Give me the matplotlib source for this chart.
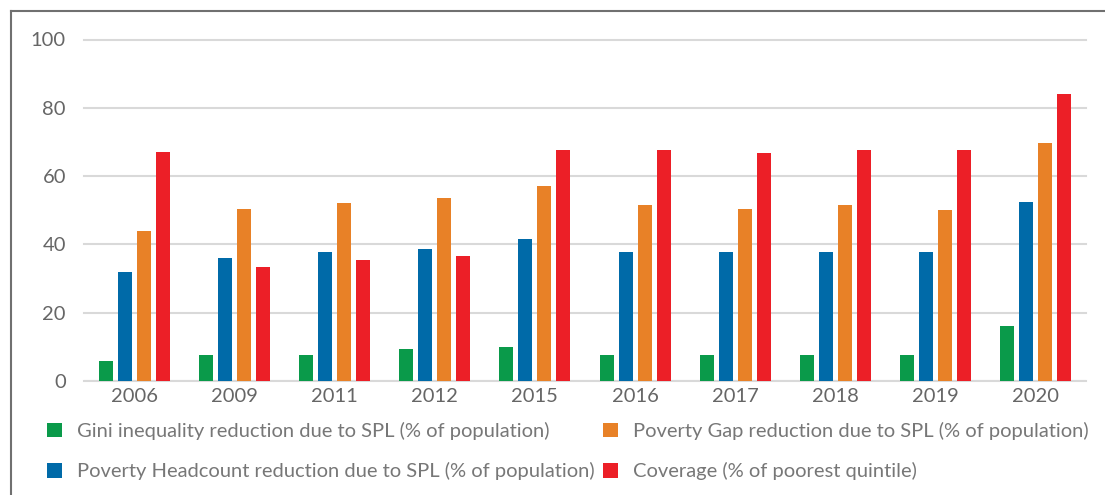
import matplotlib
matplotlib.use("Agg")
import matplotlib.pyplot as plt
import numpy as np

years = ["2006", "2009", "2011", "2012", "2015", "2016", "2017", "2018", "2019", "2020"]
gini = [5.9, 7.6, 7.6, 9.4, 10.0, 7.6, 7.6, 7.6, 7.6, 16.1]
headcount = [31.9, 36.0, 37.8, 38.6, 41.6, 37.8, 37.8, 37.8, 37.8, 52.4]
gap = [43.9, 50.3, 52.1, 53.6, 57.1, 51.5, 50.3, 51.5, 50.0, 69.7]
coverage = [67.0, 33.4, 35.4, 36.6, 67.6, 67.6, 66.7, 67.6, 67.6, 84.0]

series = [
    ("Gini inequality reduction due to SPL (% of population)", gini, "#0a9a4a"),
    ("Poverty Headcount reduction due to SPL (% of population)", headcount, "#006aa8"),
    ("Poverty Gap reduction due to SPL (% of population)", gap, "#e88127"),
    ("Coverage (% of poorest quintile)", coverage, "#ec1f27"),
]
yticks = [0, 20, 40, 60, 80, 100]

plt.rcParams['font.family'] = ['Lato', 'DejaVu Sans']

W, H = 1105, 495
fig = plt.figure(figsize=(W / 100, H / 100), dpi=100)
ax = fig.add_axes([84 / W, (H - 381) / H, (1086 - 84) / W, (381 - 39.5) / H])

x = np.arange(len(years))
width = 0.14
pitch = 0.19
offsets = (np.arange(4) - 1.5) * pitch
handles = []
for (label, vals, color), off in zip(series, offsets):
    b = ax.bar(x + off, vals, width=width, color=color, label=label, zorder=3)
    handles.append(b)

FS = 14.5
ax.set_xlim(-0.5, len(years) - 0.5)
ax.set_ylim(0, 100)
ax.set_yticks(yticks)
ax.set_xticks(x)
ax.set_xticklabels(years)
ax.grid(axis='y', color='#d9d9d9', linewidth=1.5, zorder=0)
for s in ax.spines.values():
    s.set_visible(False)
ax.axhline(0, color='#d9d9d9', linewidth=1.5, zorder=2)
ax.tick_params(axis='both', length=0, labelsize=FS, labelcolor='#666666')
ax.tick_params(axis='y', pad=13)
ax.tick_params(axis='x', pad=5)
for gl in ax.get_ygridlines():
    gl.set_clip_on(False)

# outer frame (left and top border)
fig.add_artist(plt.Line2D([10.5 / W, 10.5 / W], [0, 1 - 11 / H], color='#707070', linewidth=1.5, transform=fig.transFigure))
fig.add_artist(plt.Line2D([10.5 / W, 1], [1 - 11 / H, 1 - 11 / H], color='#707070', linewidth=1.5, transform=fig.transFigure))

leg = fig.legend(handles=handles, ncol=2, loc='upper left',
                 bbox_to_anchor=(47 / W, 1 - 422 / H), frameon=False,
                 fontsize=FS, handlelength=0.75, handleheight=0.75,
                 handletextpad=0.75, columnspacing=0.4, labelspacing=1.1,
                 borderpad=0, borderaxespad=0)
for t in leg.get_texts():
    t.set_color('#777777')

fig.savefig("out.png", dpi=100)
